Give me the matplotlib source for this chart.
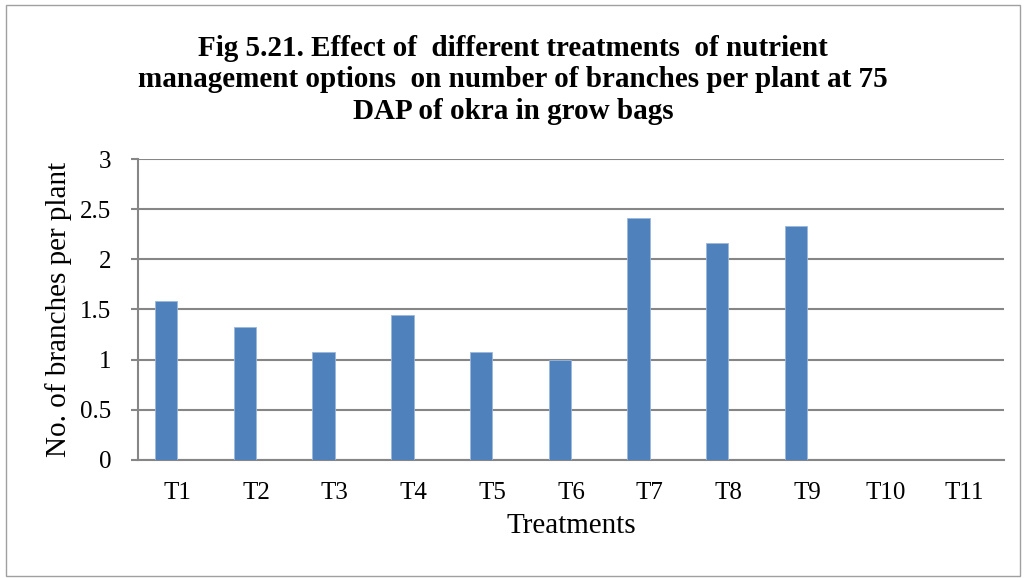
import matplotlib.pyplot as plt
from matplotlib.patches import Rectangle

treatments = ["T1", "T2", "T3", "T4", "T5", "T6", "T7", "T8", "T9", "T10", "T11"]
branches = [1.58, 1.33, 1.08, 1.45, 1.08, 1.0, 2.41, 2.16, 2.33, 0, 0]
yticks = [0, 0.5, 1, 1.5, 2, 2.5, 3]
ytick_labels = ["0", "0.5", "1", "1.5", "2", "2.5", "3"]

plt.rcParams["font.family"] = ["Liberation Serif", "DejaVu Serif"]
GRID = "#868686"

fig = plt.figure(figsize=(10.26, 5.78), dpi=100)
fig.patches.append(Rectangle((0.006, 0.004), 0.988, 0.988, transform=fig.transFigure,
                             fill=False, edgecolor="#a0a0a0", linewidth=1.0))

ax = fig.add_axes([0.1345, 0.2042, 0.8441, 0.5207])
# excel-style cluster: this series sits left of the category centre
bar_w = 0.286
x = list(range(len(treatments)))
ax.bar([i - bar_w / 2 for i in x], branches, width=bar_w, color="#4F81BD",
       edgecolor="#9bb7da", linewidth=0.6, zorder=3)

ax.set_xlim(-0.5, len(treatments) - 0.5)
ax.set_ylim(0, 3)
ax.set_yticks(yticks)
ax.set_yticklabels(ytick_labels, fontsize=18)
ax.set_xticks(x)
ax.set_xticklabels(treatments, fontsize=18)
ax.tick_params(axis="x", length=0, pad=16)
ax.tick_params(axis="y", length=5, width=1.5, color=GRID, pad=14)

ax.yaxis.grid(True, color=GRID, linewidth=1.5, zorder=0)
ax.set_axisbelow(True)
for side in ["top", "right"]:
    ax.spines[side].set_visible(False)
for side in ["left", "bottom"]:
    ax.spines[side].set_color(GRID)
    ax.spines[side].set_linewidth(1.5)

ax.set_xlabel("Treatments", fontsize=21, labelpad=6)
ax.set_ylabel("No. of branches per plant", fontsize=21, labelpad=6)

fig.text(0.5, 0.862,
         "Fig 5.21. Effect of  different treatments  of nutrient\n"
         "management options  on number of branches per plant at 75\n"
         "DAP of okra in grow bags",
         ha="center", va="center", fontsize=21, fontweight="bold", linespacing=1.22)

fig.savefig("out.png", dpi=100)
